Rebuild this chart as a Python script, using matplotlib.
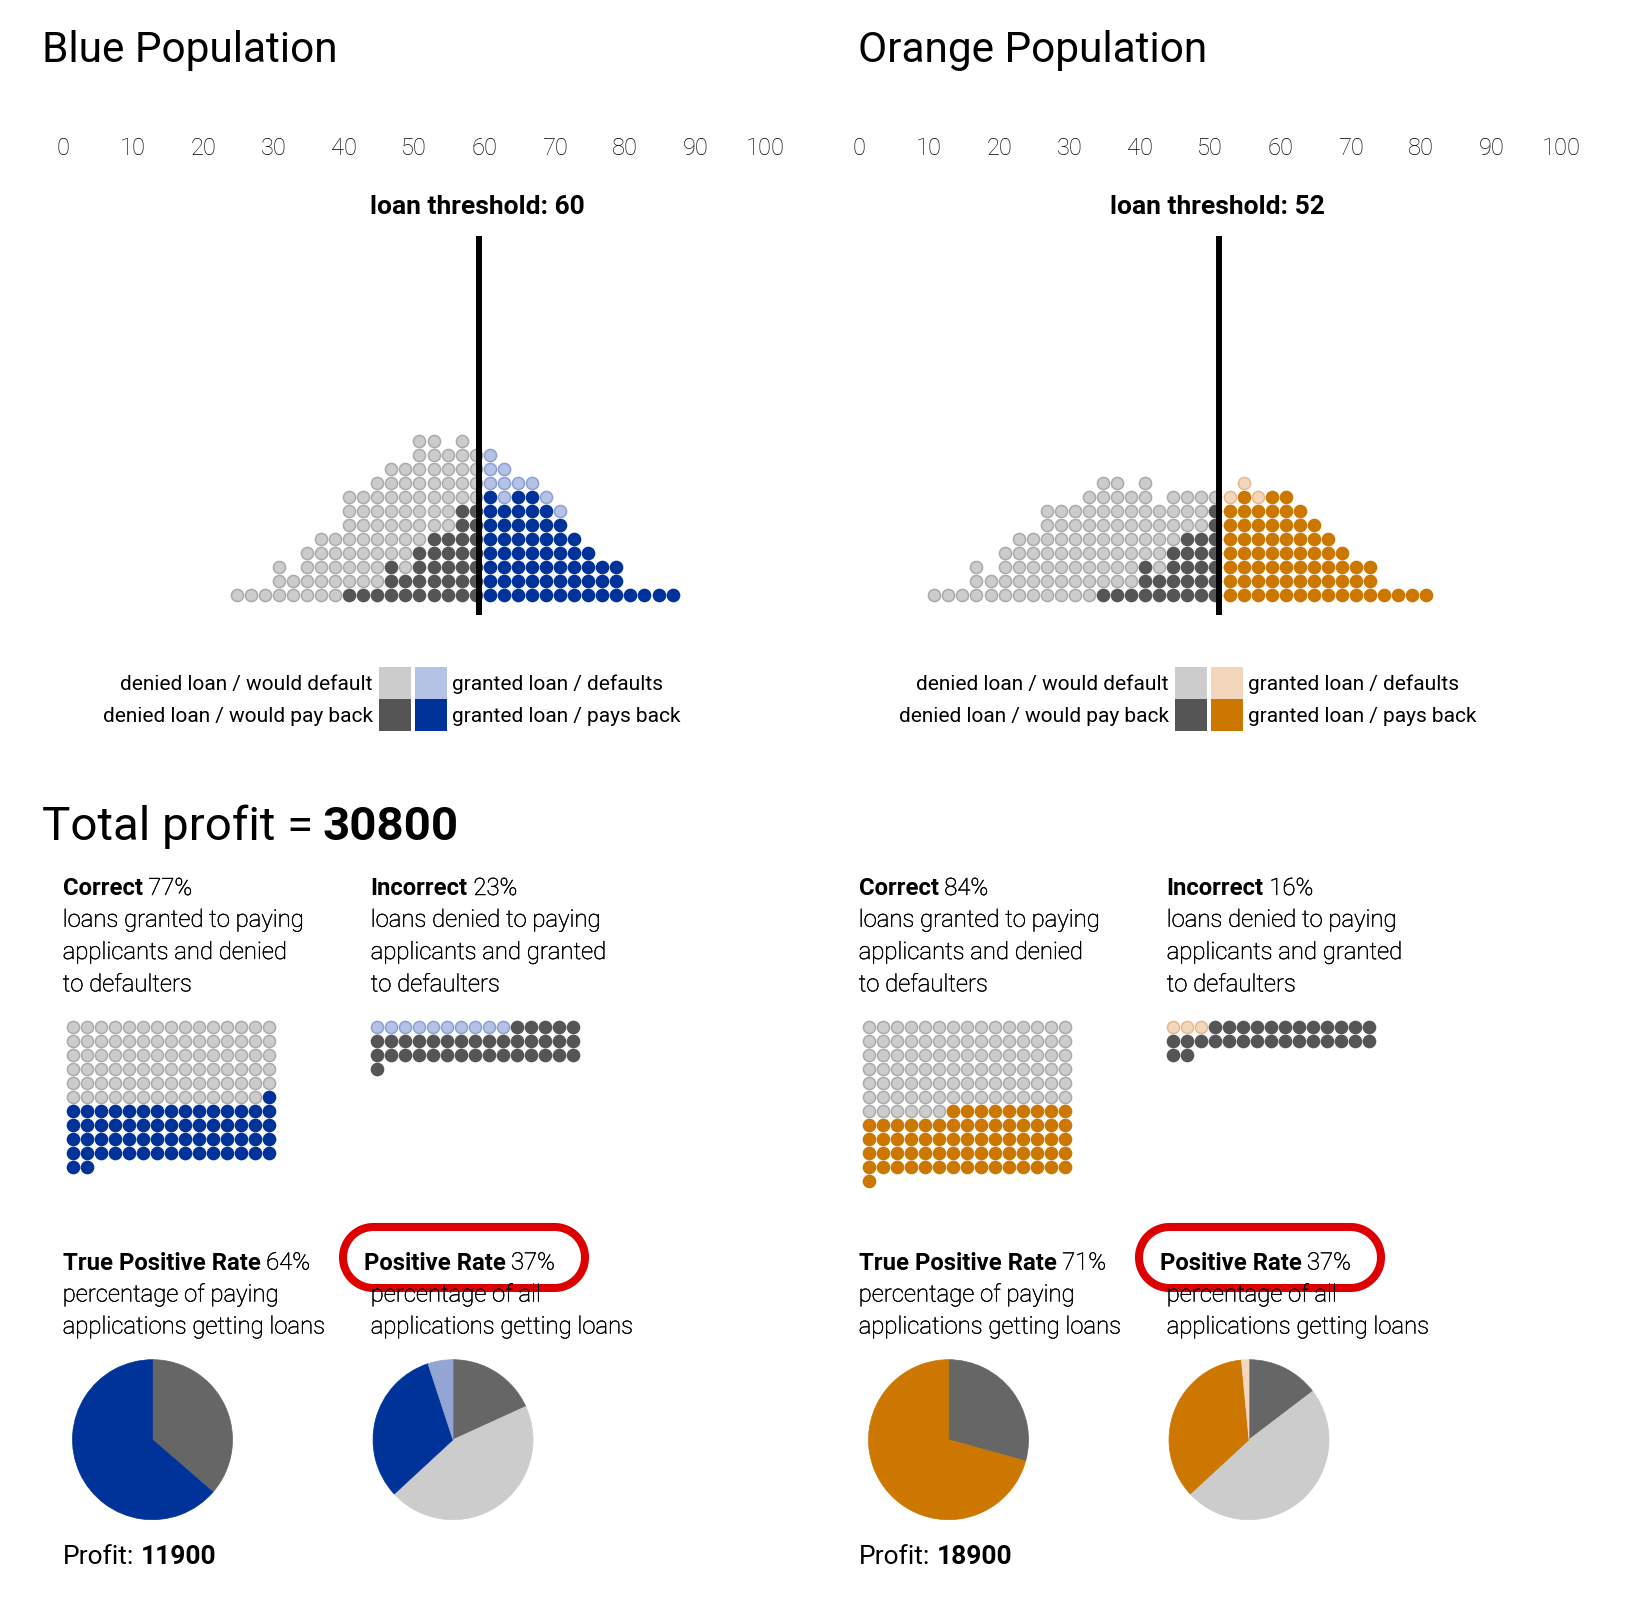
import numpy as np
import matplotlib
matplotlib.use("Agg")
import matplotlib.pyplot as plt
import matplotlib.patheffects as pe
from matplotlib.patches import Rectangle, Polygon

plt.rcParams['font.family'] = ['Roboto', 'DejaVu Sans']

W, H = 1642, 1618

# ---- data ----
# score bins are 2 wide; each list gives the count per bin, lowest bin first
blue_first_bin = 25
blue_pay = [0, 0, 0, 0, 0, 0, 0, 0, 1, 1, 1, 3, 2, 4, 5, 5,
            7, 7, 8, 7, 8, 8, 7, 6, 5, 4, 3, 3, 1, 1, 1, 1]
blue_default = [1, 1, 1, 3, 2, 4, 5, 5, 7, 7, 8, 7, 8, 8, 7, 6,
                5, 4, 3, 3, 1, 1, 1, 1, 0, 0, 0, 0, 0, 0, 0, 0]
blue_threshold = 60

orange_first_bin = 11
orange_pay = [0, 0, 0, 0, 0, 0, 0, 0, 0, 0, 0, 0, 1, 1, 1, 3, 2, 4,
              5, 5, 7, 7, 8, 7, 8, 8, 7, 6, 5, 4, 3, 3, 1, 1, 1, 1]
orange_default = [1, 1, 1, 3, 2, 4, 5, 5, 7, 7, 7, 8, 8, 8, 7, 6, 5, 4,
                  3, 3, 1, 1, 1, 1, 0, 0, 0, 0, 0, 0, 0, 0, 0, 0, 0, 0]
orange_threshold = 52

tick_values = list(range(0, 101, 10))
gain_per_payer = 300
loss_per_default = 700

legend_labels = ["denied loan / would default", "denied loan / would pay back",
                 "granted loan / defaults", "granted loan / pays back"]
correct_text = ["loans granted to paying", "applicants and denied", "to defaulters"]
incorrect_text = ["loans denied to paying", "applicants and granted", "to defaulters"]
tpr_text = ["percentage of paying", "applications getting loans"]
pr_text = ["percentage of all", "applications getting loans"]

# colours
LIGHT_GRAY, LIGHT_GRAY_EDGE = "#cccccc", "#aaaaaa"
DARK = "#555555"
PIE_DARK = "#666666"
BLUE, BLUE_LIGHT, BLUE_LIGHT_EDGE, BLUE_PIE_LIGHT = "#003399", "#b4c2e6", "#8d9fd5", "#93a5d3"
ORANGE, ORANGE_LIGHT, ORANGE_LIGHT_EDGE, ORANGE_PIE_LIGHT = "#cc7700", "#f2d7bd", "#e8b88a", "#f2d8be"
RED = "#dd0000"
TEXT = "#000000"
# thin strokes of the light face look too pale at this size, darken them a bit
THIN = [pe.withStroke(linewidth=0.35, foreground=TEXT)]

DOT_S = 76

fig = plt.figure(figsize=(16.42, 16.18), dpi=100)
canvas = fig.add_axes([0, 0, 1, 1])
canvas.set_xlim(0, W)
canvas.set_ylim(H, 0)
canvas.axis('off')


def px_axes(left, top, width, height):
    return fig.add_axes([left / W, 1 - (top + height) / H, width / W, height / H])


def row_of(py):
    # histogram row index for a pixel height
    return (594.5 - py) / 14.0


def two_part(x, y, first, second, size, w1, w2, gap):
    t1 = canvas.text(x, y, first, fontsize=size, fontweight=w1, ha='left',
                     va='baseline', color=TEXT)
    t2 = canvas.annotate(second, xy=(1, 0), xycoords=t1, xytext=(gap, 0),
                         textcoords='offset points', fontsize=size, fontweight=w2,
                         ha='left', va='bottom', color=TEXT)
    if w2 == 'light':
        t2.set_path_effects(THIN)


def body(x, y, s, size):
    canvas.text(x, y, s, fontsize=size, fontweight='light', va='baseline',
                color=TEXT, zorder=3, path_effects=THIN)


def stadium(x0, y0, w, h):
    r = h / 2
    t = np.linspace(-np.pi / 2, np.pi / 2, 60)
    right = np.column_stack([x0 + w - r + r * np.cos(t), y0 + r + r * np.sin(t)])
    left = np.column_stack([x0 + r - r * np.cos(t), y0 + r - r * np.sin(t)])
    canvas.add_patch(Polygon(np.vstack([right, left]), closed=True, fill=False,
                             edgecolor=RED, lw=5.8, joinstyle='round', zorder=1))


def waffle(x0, y0, groups):
    ax = px_axes(x0 - 7, y0 - 7, 15 * 14, 13 * 14)
    ax.set_xlim(-0.5, 14.5)
    ax.set_ylim(12.5, -0.5)
    ax.axis('off')
    start = 0
    for n, fc, ec in groups:
        cells = list(range(start, start + n))
        ax.scatter([c % 15 for c in cells], [c // 15 for c in cells], s=DOT_S,
                   facecolors=fc, edgecolors=ec, linewidths=1.1, clip_on=False)
        start += n


def pie(cx, cy, values, colors):
    r = 80
    ax = px_axes(cx - r, cy - r, 2 * r, 2 * r)
    wedges, _ = ax.pie(values, colors=colors, startangle=90, counterclock=False, radius=1)
    for w, c in zip(wedges, colors):
        w.set_edgecolor(c)
        w.set_linewidth(0.5)
    ax.set_xlim(-1, 1)
    ax.set_ylim(-1, 1)
    ax.axis('off')


def population(x_off, title, title_x, first_bin, pay, default, thr,
               base, light, light_edge, pie_light):
    canvas.text(title_x, 62, title, fontsize=30.5, ha='left', va='baseline')

    ax = px_axes(60.95 + x_off, 120, 703, 500)
    ax.set_xlim(0, 100)
    ax.set_ylim(row_of(620), row_of(120))
    ax.axis('off')

    for t in tick_values:
        ax.text(t + 0.25, row_of(155), str(t), fontsize=17, fontweight='light',
                ha='center', va='baseline', color=TEXT)

    groups = {'dd': ([], []), 'dp': ([], []), 'gp': ([], []), 'gd': ([], [])}
    for i, (p, d) in enumerate(zip(pay, default)):
        v = first_bin + 2 * i
        granted = v > thr
        kp, kd = ('gp', 'gd') if granted else ('dp', 'dd')
        for r in range(p):
            groups[kp][0].append(v)
            groups[kp][1].append(r)
        for r in range(p, p + d):
            groups[kd][0].append(v)
            groups[kd][1].append(r)
    style = {'dd': (LIGHT_GRAY, LIGHT_GRAY_EDGE), 'dp': (DARK, DARK),
             'gp': (base, base), 'gd': (light, light_edge)}
    for k, (xs, ys) in groups.items():
        fc, ec = style[k]
        ax.scatter(xs, ys, s=DOT_S, facecolors=fc, edgecolors=ec,
                   linewidths=1.1, zorder=2, clip_on=False)

    line_x = thr - 0.5
    ax.plot([line_x, line_x], [row_of(614.5), row_of(235.5)], color='black',
            lw=4.3, solid_capstyle='butt', zorder=3)
    ax.text(line_x - 0.2, row_of(214.5), "loan threshold: %d" % thr, fontsize=19,
            fontweight='bold', ha='center', va='baseline')

    # legend
    sq = [(379, 667, LIGHT_GRAY), (379, 699, DARK), (415, 667, light), (415, 699, base)]
    for sx, sy, c in sq:
        canvas.add_patch(Rectangle((sx + x_off, sy), 32, 32, facecolor=c, edgecolor='none'))
    canvas.text(372.7 + x_off, 690, legend_labels[0], fontsize=15, ha='right', va='baseline')
    canvas.text(372.7 + x_off, 721.7, legend_labels[1], fontsize=15, ha='right', va='baseline')
    canvas.text(452.5 + x_off, 690, legend_labels[2], fontsize=15, ha='left', va='baseline')
    canvas.text(452.5 + x_off, 721.7, legend_labels[3], fontsize=15, ha='left', va='baseline')

    # confusion numbers
    dp = sum(p for i, p in enumerate(pay) if first_bin + 2 * i < thr)
    dd = sum(d for i, d in enumerate(default) if first_bin + 2 * i < thr)
    gp = sum(pay) - dp
    gd = sum(default) - dd
    total = dp + dd + gp + gd
    correct = round(100 * (gp + dd) / total)
    incorrect = round(100 * (dp + gd) / total)
    tpr = round(100 * gp / (gp + dp))
    pr = round(100 * (gp + gd) / total)
    profit = gain_per_payer * gp - loss_per_default * gd

    c1, c2 = 62.7 + x_off, 370.7 + x_off
    fs = 17.2
    two_part(c1, 895, "Correct", "%d%%" % correct, fs, 'bold', 'light', 4)
    two_part(c2, 895, "Incorrect", "%d%%" % incorrect, fs, 'bold', 'light', 4)
    for j, line in enumerate(correct_text):
        body(c1, 926.7 + 32.3 * j, line, fs)
    for j, line in enumerate(incorrect_text):
        body(c2, 926.7 + 32.3 * j, line, fs)

    waffle(73 + x_off, 1026.7, [(dd, LIGHT_GRAY, LIGHT_GRAY_EDGE), (gp, base, base)])
    waffle(376.7 + x_off, 1026.7, [(gd, light, light_edge), (dp, DARK, DARK)])

    # red ring around the positive rate heading
    stadium(343 + x_off, 1227, 242, 61)
    two_part(c1, 1269.5, "True Positive Rate", "%d%%" % tpr, fs, 'bold', 'light', 4)
    two_part(363.5 + x_off, 1269.5, "Positive Rate", "%d%%" % pr, fs, 'bold', 'light', 4)
    for j, line in enumerate(tpr_text):
        body(c1, 1301.5 + 32 * j, line, fs)
    for j, line in enumerate(pr_text):
        body(c2, 1301.5 + 32 * j, line, fs)

    pie(152.5 + x_off, 1439.7, [dp, gp], [PIE_DARK, base])
    pie(453 + x_off, 1439.7, [dp, dd, gp, gd], [PIE_DARK, LIGHT_GRAY, base, pie_light])

    two_part(63 + x_off, 1564, "Profit:", "%d" % profit, 19, 'normal', 'bold', 4.5)
    return profit


p_blue = population(0, "Blue Population", 42, blue_first_bin, blue_pay, blue_default,
                    blue_threshold, BLUE, BLUE_LIGHT, BLUE_LIGHT_EDGE, BLUE_PIE_LIGHT)
p_orange = population(796, "Orange Population", 858.5, orange_first_bin, orange_pay,
                      orange_default, orange_threshold, ORANGE, ORANGE_LIGHT,
                      ORANGE_LIGHT_EDGE, ORANGE_PIE_LIGHT)

two_part(42, 839.5, "Total profit =", "%d" % (p_blue + p_orange), 34.2, 'normal', 'bold', 7)

fig.savefig("out.png", dpi=100)
